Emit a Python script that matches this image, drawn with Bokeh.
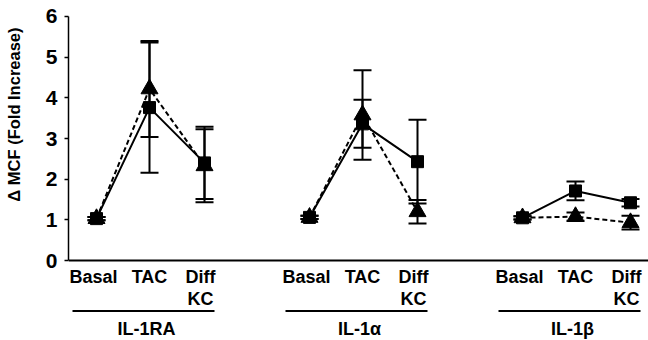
import math
from bokeh.plotting import figure
from bokeh.models import Range1d, Span, FixedTicker, Title
from bokeh.core.properties import value
from bokeh.embed import file_html
from bokeh.resources import INLINE

# ---- data ----
groups = ["IL-1RA", "IL-1\u03b1", "IL-1\u03b2"]
cond_line1 = ["Basal", "TAC", "Diff"]
cond_line2 = ["", "", "KC"]

square_mean = [[1.03, 3.76, 2.40], [1.06, 3.36, 2.43], [1.05, 1.71, 1.42]]
square_err = [[0.04, 1.60, 0.89], [0.04, 0.59, 1.03], [0.04, 0.23, 0.09]]
tri_mean = [[1.03, 4.22, 2.33], [1.06, 3.58, 1.20], [1.05, 1.08, 0.93]]
tri_err = [[0.04, 1.18, 0.90], [0.04, 1.10, 0.29], [0.04, 0.10, 0.17]]

y_ticks = [0, 1, 2, 3, 4, 5, 6]
y_label = "\u0394 MCF (Fold Increase)"

# ---- layout ----
FONT = "Liberation Sans"
W, H = 648, 340
FRAME_LEFT = 68
PXV = 40.67                       # px per y unit
Y_END = 6 + 16 / PXV
Y_START = -(H - 260) / PXV
X0, STEP = 96, 213
OFFS = [0, 53, 108]
LBL_OFFS = [-3, 53, 104]
CAP = 9

p = figure(width=W, height=H, output_backend="svg", toolbar_location=None,
           x_range=Range1d(FRAME_LEFT, W), y_range=Range1d(Y_START, Y_END),
           min_border_left=FRAME_LEFT, min_border_right=0, min_border_top=0, min_border_bottom=0)
p.outline_line_color = None
p.grid.visible = False
p.xaxis.visible = False
p.background_fill_color = "white"
p.border_fill_color = "white"

ya = p.yaxis[0]
ya.bounds = (0, 6)
ya.ticker = FixedTicker(ticks=y_ticks)
ya.minor_tick_line_color = None
ya.major_tick_in = 0
ya.major_tick_out = 4
ya.major_tick_line_width = 1.5
ya.axis_line_width = 1.5
ya.axis_line_color = "black"
ya.major_tick_line_color = "black"
ya.major_label_standoff = 7
ya.major_label_text_font = FONT
ya.major_label_text_font_style = "bold"
ya.major_label_text_font_size = "21px"
ya.major_label_text_color = "black"

# spacer between the tick labels and the axis title
p.add_layout(Title(text=" ", text_font_size="1px", standoff=15), "left")
p.add_layout(Title(text=y_label, align="right", offset=27, standoff=4,
                   text_font=FONT, text_font_style="bold", text_font_size="16.5px",
                   text_color="black"), "left")

p.add_layout(Span(location=0, dimension="width", line_color="black", line_width=2))

ROW1 = -16.5 / PXV
ROW2 = -38.5 / PXV
ULINE = -50.5 / PXV
GROW = -68.5 / PXV

for g, name in enumerate(groups):
    base = X0 + STEP * g
    xs = [base + o for o in OFFS]
    for means, errs in ((tri_mean[g], tri_err[g]), (square_mean[g], square_err[g])):
        lo = [m - e for m, e in zip(means, errs)]
        hi = [m + e for m, e in zip(means, errs)]
        p.segment(x0=xs, y0=lo, x1=xs, y1=hi, line_color="black", line_width=2)
        p.segment(x0=[x - CAP for x in xs], y0=lo, x1=[x + CAP for x in xs], y1=lo,
                  line_color="black", line_width=2)
        p.segment(x0=[x - CAP for x in xs], y0=hi, x1=[x + CAP for x in xs], y1=hi,
                  line_color="black", line_width=2)
    p.line(xs, tri_mean[g], line_color="black", line_width=2, line_dash="5 3")
    p.line(xs, square_mean[g], line_color="black", line_width=2)
    p.scatter(xs, tri_mean[g], marker="triangle", size=17, fill_color="black", line_color="black")
    p.scatter(xs, square_mean[g], marker="square", size=12, fill_color="black", line_color="black")

    lx = [base + o for o in LBL_OFFS]
    p.text(x=lx, y=[ROW1] * 3, text=cond_line1, text_align="center", text_baseline="middle",
           text_font=value(FONT), text_font_style="bold", text_font_size="18px", text_color="black")
    p.text(x=[base + 117], y=[ROW2], text=[cond_line2[2]], text_align="right", text_baseline="middle",
           text_font=value(FONT), text_font_style="bold", text_font_size="18px", text_color="black")
    p.segment(x0=[base - 24], y0=[ULINE], x1=[base + 118], y1=[ULINE], line_color="black", line_width=2)
    p.text(x=[base + 50], y=[GROW], text=[name], text_align="center", text_baseline="middle",
           text_font=value(FONT), text_font_style="bold", text_font_size="18px", text_color="black")

open("out.html", "w").write(file_html(p, INLINE))
